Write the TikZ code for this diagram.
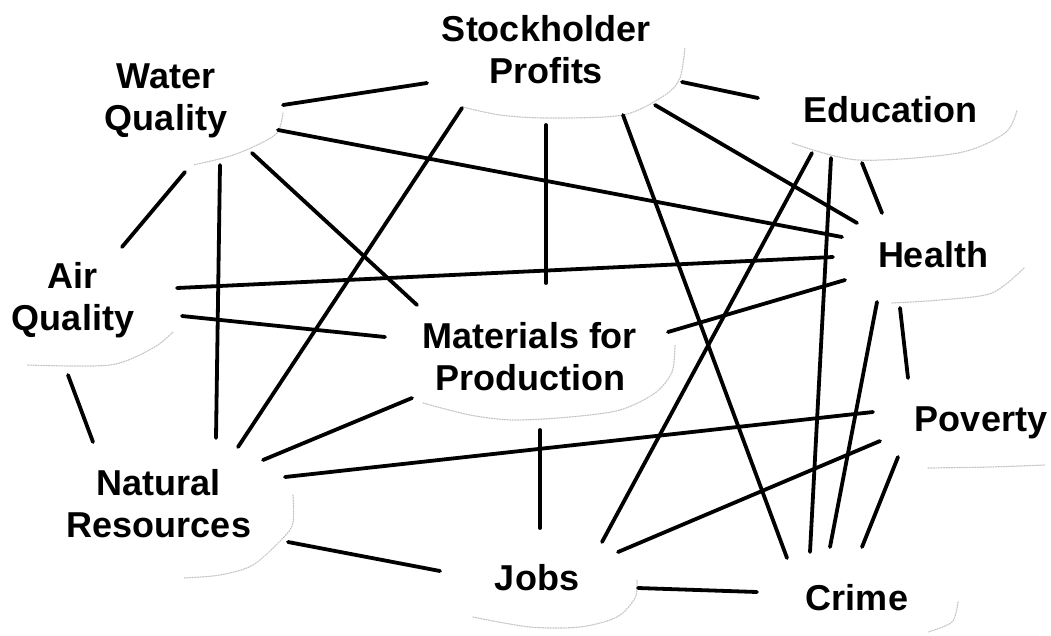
\documentclass[tikz,border=0pt]{standalone}
\usepackage{fontspec}
\setmainfont{Liberation Sans}
\begin{document}
\begin{tikzpicture}[x=1pt,y=-1pt,
  lbl/.style={font=\fontsize{36}{42}\selectfont\bfseries, align=center, inner sep=0pt, text=black},
  link/.style={line width=3.8pt, line cap=round, draw=black},
  halo/.style={draw=black!22, line width=1.2pt, dash pattern=on 1.2pt off 1.4pt, line cap=round}]
\useasboundingbox[fill=white] (0,0) rectangle (1051,635);

% faint cloud outlines
\draw[halo] plot[smooth] coordinates {(463,107) (500,115) (547,118) (623,115) (665,95) (680,78) (685,47)};
\draw[halo] plot[smooth] coordinates {(792,143) (858,160) (958,153) (1005,133) (1017,110)};
\draw[halo] plot[smooth] coordinates {(892,303) (940,300) (992,293) (1025,267)};
\draw[halo] plot[smooth] coordinates {(283,113) (277,133) (253,147) (227,157) (193,165)};
\draw[halo] plot[smooth] coordinates {(173,332) (153,348) (110,365) (27,365)};
\draw[halo] plot[smooth] coordinates {(423,403) (470,415) (513,420) (570,417) (620,410) (655,393) (672,372) (675,345)};
\draw[halo] plot[smooth] coordinates {(293,495) (293,523) (283,538) (253,565) (220,575) (183,578)};
\draw[halo] plot[smooth] coordinates {(473,617) (530,627) (580,627) (617,617) (635,598) (637,580)};
\draw[halo] plot[smooth] coordinates {(958,602) (952,622) (928,632)};
\draw[halo] plot[smooth] coordinates {(928,468) (990,467) (1045,465)};

% labels
\node[lbl] (sp) at (546,50)  {Stockholder\\Profits};
\node[lbl] (wq) at (166,101) {Water\\Quality};
\node[lbl] (aq) at (73,300)  {Air\\Quality};
\node[lbl] (mp) at (530,357) {Materials for\\Production};
\node[lbl] (ed) at (890,110) {Education};
\node[lbl] (he) at (933,255) {Health};
\node[lbl] (po) at (981,423) {Poverty};
\node[lbl] (cr) at (857,598) {Crime};
\node[lbl] (jo) at (537,578) {Jobs};
\node[lbl] (nr) at (159,504) {Natural\\Resources};

% connector ends
\coordinate (wq-sp) at (283,105);  \coordinate (sp-wq) at (427,83);
\coordinate (wq-he) at (278,130);  \coordinate (he-wq) at (842,237);
\coordinate (wq-mp) at (252,153);  \coordinate (mp-wq) at (417,305);
\coordinate (wq-nr) at (220,165);  \coordinate (nr-wq) at (216,438);
\coordinate (wq-aq) at (185,172);  \coordinate (aq-wq) at (122,247);
\coordinate (sp-nr) at (462,108);  \coordinate (nr-sp) at (238,447);
\coordinate (aq-he) at (177,288);  \coordinate (he-aq) at (833,257);
\coordinate (aq-mp) at (182,316);  \coordinate (mp-aq) at (385,337);
\coordinate (sp-mp) at (546,125);  \coordinate (mp-sp) at (546,283);
\coordinate (sp-ed) at (682,82);   \coordinate (ed-sp) at (758,98);
\coordinate (sp-he) at (655,105);  \coordinate (he-sp) at (857,223);
\coordinate (sp-cr) at (623,115);  \coordinate (cr-sp) at (787,558);
\coordinate (ed-jo) at (812,153);  \coordinate (jo-ed) at (602,542);
\coordinate (ed-cr) at (831,158);  \coordinate (cr-ed) at (810,552);
\coordinate (ed-he) at (862,163);  \coordinate (he-ed) at (882,213);
\coordinate (he-mp) at (845,280);  \coordinate (mp-he) at (668,332);
\coordinate (he-cr) at (877,302);  \coordinate (cr-he) at (830,547);
\coordinate (he-po) at (900,308);  \coordinate (po-he) at (908,378);
\coordinate (po-nr) at (873,412);  \coordinate (nr-po) at (285,477);
\coordinate (po-jo) at (880,441);  \coordinate (jo-po) at (618,552);
\coordinate (po-cr) at (898,457);  \coordinate (cr-po) at (862,547);
\coordinate (jo-cr) at (638,588);  \coordinate (cr-jo) at (757,592);
\coordinate (mp-jo) at (540,430);  \coordinate (jo-mp) at (540,528);
\coordinate (nr-jo) at (288,542);  \coordinate (jo-nr) at (440,571);
\coordinate (nr-mp) at (263,460);  \coordinate (mp-nr) at (412,398);
\coordinate (aq-nr) at (68,375);   \coordinate (nr-aq) at (93,442);

% connectors
\draw[link] (wq-sp) -- (sp-wq);
\draw[link] (wq-he) -- (he-wq);
\draw[link] (wq-mp) -- (mp-wq);
\draw[link] (wq-nr) -- (nr-wq);
\draw[link] (wq-aq) -- (aq-wq);
\draw[link] (sp-nr) -- (nr-sp);
\draw[link] (aq-he) -- (he-aq);
\draw[link] (aq-mp) -- (mp-aq);
\draw[link] (sp-mp) -- (mp-sp);
\draw[link] (sp-ed) -- (ed-sp);
\draw[link] (sp-he) -- (he-sp);
\draw[link] (sp-cr) -- (cr-sp);
\draw[link] (ed-jo) -- (jo-ed);
\draw[link] (ed-cr) -- (cr-ed);
\draw[link] (ed-he) -- (he-ed);
\draw[link] (he-mp) -- (mp-he);
\draw[link] (he-cr) -- (cr-he);
\draw[link] (he-po) -- (po-he);
\draw[link] (po-nr) -- (nr-po);
\draw[link] (po-jo) -- (jo-po);
\draw[link] (po-cr) -- (cr-po);
\draw[link] (jo-cr) -- (cr-jo);
\draw[link] (mp-jo) -- (jo-mp);
\draw[link] (nr-jo) -- (jo-nr);
\draw[link] (nr-mp) -- (mp-nr);
\draw[link] (aq-nr) -- (nr-aq);
\end{tikzpicture}
\end{document}
